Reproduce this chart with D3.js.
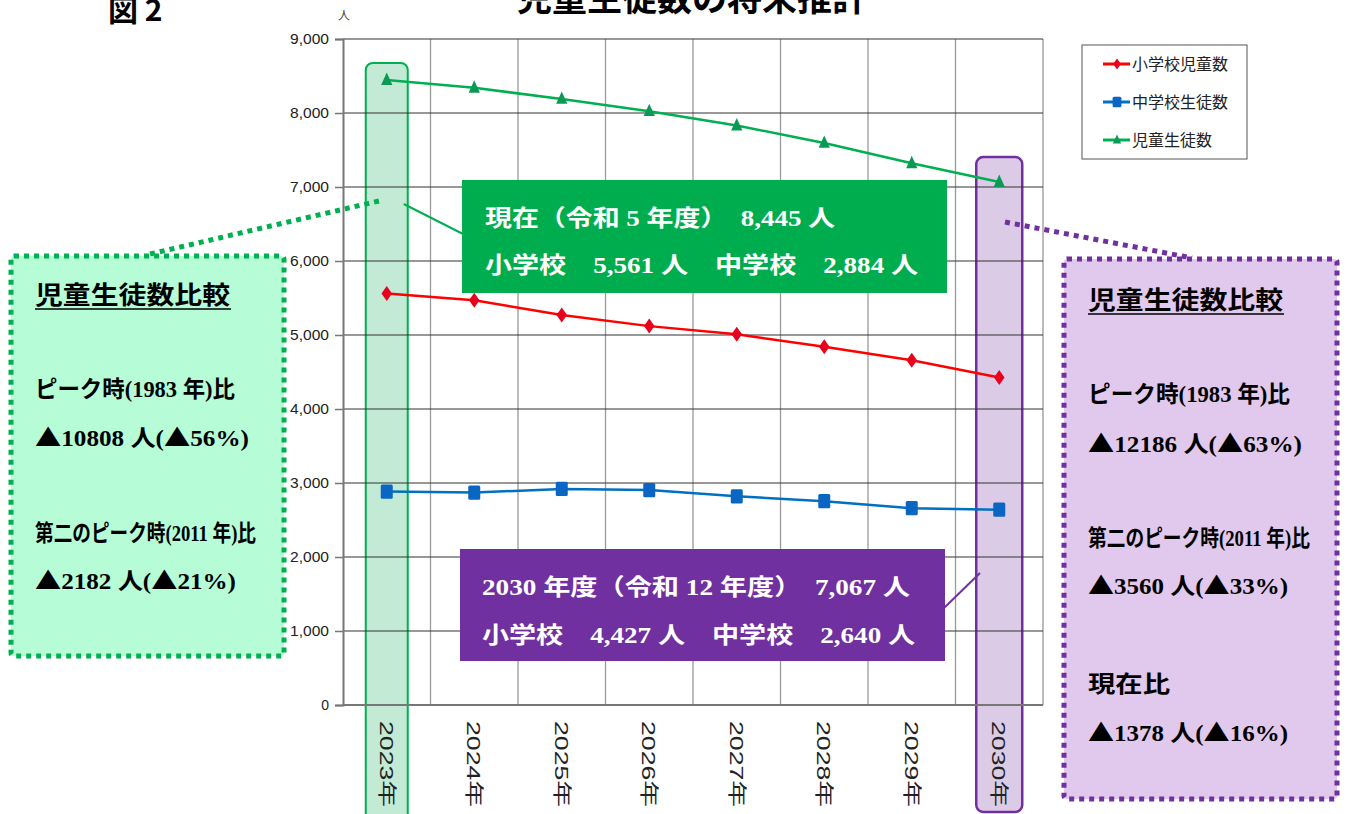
<!DOCTYPE html>
<html>
<head>
<meta charset="utf-8">
<script src="https://cdn.jsdelivr.net/npm/d3@7"></script>
<style>
  body { margin: 0; background: #fff; }
  svg { display: block; }
</style>
</head>
<body>
<div id="chart"></div>
<script>
// data -------------------------------------------------------
const years = ['2023年', '2024年', '2025年', '2026年', '2027年', '2028年', '2029年', '2030年'];
const elementary = [5561, 5470, 5270, 5120, 5010, 4840, 4660, 4427];
const middle = [2884, 2870, 2920, 2905, 2820, 2755, 2660, 2640];
const total = elementary.map((v, i) => v + middle[i]);
const yTicks = [0, 1000, 2000, 3000, 4000, 5000, 6000, 7000, 8000, 9000];
const seriesNames = ['小学校児童数', '中学校生徒数', '児童生徒数'];

const leftNotes = ['ピーク時(1983 年)比', '▲10808 人(▲56%)', '第二のピーク時(2011 年)比', '▲2182 人(▲21%)'];
const rightNotes = ['ピーク時(1983 年)比', '▲12186 人(▲63%)', '第二のピーク時(2011 年)比', '▲3560 人(▲33%)', '現在比', '▲1378 人(▲16%)'];

const W = 1349, H = 814;
const fmt = d3.format(',');
const serif = '"Liberation Serif", "Noto Sans CJK JP", serif';
const sans = '"Liberation Sans", Arial, "Noto Sans CJK JP", sans-serif';
const cjk = '"Noto Sans CJK JP", sans-serif';

const svg = d3.select('#chart').append('svg')
    .attr('width', W)
    .attr('height', H);

const x = d3.scaleBand().domain(years).range([343, 1043]);
const y = d3.scaleLinear().domain([0, 9000]).range([705, 39]);
const cx = d => x(d) + x.bandwidth() / 2;

// title (top of it is cut by the page edge, as in the source)
svg.append('text')
   .attr('x', 692).attr('y', 11)
   .attr('text-anchor', 'middle')
   .attr('font-family', cjk).attr('font-weight', 'bold')
   .attr('font-size', 35)
   .text('児童生徒数の将来推計');
svg.append('text')
   .attr('x', 108).attr('y', 21)
   .attr('font-family', cjk).attr('font-weight', 'bold')
   .attr('font-size', 30)
   .text('図 2');

// highlight bands behind the plot
svg.append('rect')
   .attr('x', cx(years[0]) - 21).attr('y', 63)
   .attr('width', 42).attr('height', 770)
   .attr('rx', 7)
   .attr('fill', '#c2ead5').attr('stroke', '#00b050').attr('stroke-width', 2);
svg.append('rect')
   .attr('x', cx(years[7]) - 23).attr('y', 157)
   .attr('width', 46).attr('height', 655)
   .attr('rx', 7)
   .attr('fill', '#dccbe7').attr('stroke', '#7030a0').attr('stroke-width', 2.5);

// grid
svg.append('g').selectAll('line')
   .data(years.slice(1))
   .join('line')
   .attr('x1', d => x(d)).attr('x2', d => x(d))
   .attr('y1', y(9000)).attr('y2', y(0))
   .attr('stroke', '#9a9a9a').attr('stroke-width', 1.3);
svg.append('line')
   .attr('x1', 1043).attr('x2', 1043).attr('y1', y(9000)).attr('y2', y(0))
   .attr('stroke', '#9a9a9a').attr('stroke-width', 1.3);
svg.append('g').selectAll('line')
   .data(yTicks.slice(1))
   .join('line')
   .attr('x1', 343).attr('x2', 1043)
   .attr('y1', d => y(d)).attr('y2', d => y(d))
   .attr('stroke', '#333').attr('stroke-width', 1.1);

// y axis
const yAxis = svg.append('g')
   .attr('transform', 'translate(343,0)')
   .call(d3.axisLeft(y).tickValues(yTicks).tickFormat(fmt).tickSize(8).tickPadding(6));
yAxis.select('.domain').attr('stroke', '#777').attr('stroke-width', 2);
yAxis.selectAll('.tick line').attr('stroke', '#777').attr('stroke-width', 1.5);
yAxis.selectAll('text')
   .attr('font-family', sans).attr('font-size', 14).attr('fill', '#222')
   .attr('textLength', d => d === 0 ? null : 39)
   .attr('lengthAdjust', 'spacingAndGlyphs');
svg.append('line')
   .attr('x1', 343).attr('x2', 1043).attr('y1', y(0)).attr('y2', y(0))
   .attr('stroke', '#777').attr('stroke-width', 2);
svg.append('text')
   .attr('x', 344).attr('y', 20)
   .attr('text-anchor', 'middle')
   .attr('font-family', cjk).attr('font-size', 12).attr('fill', '#444')
   .text('人');

// x labels (rotated)
svg.append('g').selectAll('text')
   .data(years)
   .join('text')
   .attr('transform', d => `translate(${cx(d) - 7},721) rotate(90)`)
   .attr('font-family', sans).attr('font-size', 19).attr('fill', '#222')
   .attr('textLength', 86).attr('lengthAdjust', 'spacingAndGlyphs')
   .text(d => d);

// lines
const series = [
  { name: seriesNames[0], values: elementary, color: '#ff0000', marker: 'diamond' },
  { name: seriesNames[1], values: middle, color: '#0070c0', marker: 'square' },
  { name: seriesNames[2], values: total, color: '#00b050', marker: 'triangle' }
];
const line = d3.line().x((d, i) => cx(years[i])).y(d => y(d));
const markerFill = { diamond: '#e8001c', square: '#0a66c2', triangle: '#0a9a55' };
function drawMarker(g, type, size) {
  if (type === 'diamond') {
    g.append('path').attr('d', `M0,${-size}L${size * 0.7},0L0,${size}L${-size * 0.7},0Z`);
  } else if (type === 'square') {
    g.append('rect').attr('x', -size * 0.8).attr('y', -size * 0.95)
     .attr('width', size * 1.6).attr('height', size * 1.9).attr('rx', 1.5);
  } else {
    g.append('path').attr('d', `M0,${-size}L${size * 0.75},${size * 0.65}L${-size * 0.75},${size * 0.65}Z`);
  }
}
series.forEach(s => {
  svg.append('path')
     .datum(s.values)
     .attr('d', line)
     .attr('fill', 'none')
     .attr('stroke', s.color)
     .attr('stroke-width', 2.5);
  svg.append('g').selectAll('g')
     .data(s.values)
     .join('g')
     .attr('transform', (d, i) => `translate(${cx(years[i])},${y(d)})`)
     .attr('fill', markerFill[s.marker])
     .each(function () { drawMarker(d3.select(this), s.marker, 7.5); });
});

// legend
const lg = svg.append('g').attr('transform', 'translate(1082,45)');
lg.append('rect').attr('width', 165).attr('height', 114)
  .attr('fill', '#fff').attr('stroke', '#555').attr('stroke-width', 1);
series.forEach((s, i) => {
  const row = lg.append('g').attr('transform', `translate(0,${19 + i * 38})`);
  row.append('line').attr('x1', 21).attr('x2', 48)
     .attr('stroke', s.color).attr('stroke-width', 3);
  const m = row.append('g').attr('transform', 'translate(35,0)').attr('fill', markerFill[s.marker]);
  drawMarker(m, s.marker, 5.5);
  row.append('text').attr('x', 50).attr('y', 6)
     .attr('font-family', cjk).attr('font-size', 16).attr('fill', '#222')
     .text(s.name);
});

// callout boxes ---------------------------------------------
function boxText(g, x0, yPos, str, len, color) {
  g.append('text')
   .attr('x', x0).attr('y', yPos)
   .attr('font-family', serif).attr('font-weight', 'bold')
   .attr('font-size', 23).attr('fill', color)
   .attr('textLength', len).attr('lengthAdjust', 'spacingAndGlyphs')
   .text(str);
}
// present (green)
svg.append('line')
   .attr('x1', cx(years[0]) + 17).attr('y1', 204).attr('x2', 463).attr('y2', 234)
   .attr('stroke', '#00b050').attr('stroke-width', 2);
svg.append('rect').attr('x', 462).attr('y', 180).attr('width', 485).attr('height', 113)
   .attr('fill', '#00ad4e');
boxText(svg, 485, 226, `現在（令和 5 年度）　${fmt(total[0])} 人`, 350, '#fff');
boxText(svg, 485, 273, `小学校　${fmt(elementary[0])} 人　中学校　${fmt(middle[0])} 人`, 433, '#fff');

// 2030 (purple)
svg.append('line')
   .attr('x1', 944).attr('y1', 608).attr('x2', 980).attr('y2', 573)
   .attr('stroke', '#7030a0').attr('stroke-width', 2);
svg.append('rect').attr('x', 460).attr('y', 549).attr('width', 485).attr('height', 112)
   .attr('fill', '#7030a0');
boxText(svg, 482, 595, `2030 年度（令和 12 年度）　${fmt(total[7])} 人`, 428, '#fff');
boxText(svg, 482, 643, `小学校　${fmt(elementary[7])} 人　中学校　${fmt(middle[7])} 人`, 433, '#fff');

// left dotted comparison box
svg.append('line')
   .attr('x1', 150).attr('y1', 254).attr('x2', 383).attr('y2', 200)
   .attr('stroke', '#00b050').attr('stroke-width', 5).attr('stroke-dasharray', '5,5');
svg.append('rect').attr('x', 11).attr('y', 256).attr('width', 273).attr('height', 400)
   .attr('rx', 3)
   .attr('fill', '#b6fcd6').attr('stroke', '#00b050').attr('stroke-width', 5)
   .attr('stroke-dasharray', '5,5');

// right dotted comparison box
svg.append('line')
   .attr('x1', 1005).attr('y1', 222).attr('x2', 1192).attr('y2', 258)
   .attr('stroke', '#7030a0').attr('stroke-width', 5).attr('stroke-dasharray', '5,5');
svg.append('rect').attr('x', 1064).attr('y', 259).attr('width', 273).attr('height', 540)
   .attr('rx', 3)
   .attr('fill', '#e0c9ec').attr('stroke', '#7030a0').attr('stroke-width', 5)
   .attr('stroke-dasharray', '5,5');

function noteBlock(x0, titleY, lines, ys, lens) {
  svg.append('text')
     .attr('x', x0).attr('y', titleY)
     .attr('font-family', cjk).attr('font-weight', 'bold').attr('font-size', 25)
     .attr('textLength', 195).attr('lengthAdjust', 'spacingAndGlyphs')
     .text('児童生徒数比較');
  svg.append('line')
     .attr('x1', x0).attr('x2', x0 + 196).attr('y1', titleY + 5).attr('y2', titleY + 5)
     .attr('stroke', '#000').attr('stroke-width', 1.5);
  lines.forEach((t, i) => {
    const txt = svg.append('text')
       .attr('x', x0).attr('y', ys[i])
       .attr('font-family', serif).attr('font-weight', 'bold')
       .attr('font-size', 23)
       .attr('textLength', lens[i]).attr('lengthAdjust', 'spacingAndGlyphs');
    // the ▲ marks are drawn larger with the CJK face
    t.split(/(▲)/).filter(p => p !== '').forEach(p => {
      const ts = txt.append('tspan').text(p);
      if (p === '▲') ts.attr('font-family', cjk).attr('font-size', 24);
    });
  });
}
noteBlock(35, 304, leftNotes, [397, 446, 541, 589], [200, 214, 221, 201]);
noteBlock(1088, 309, rightNotes, [402, 452, 546, 594, 692, 741], [202, 214, 222, 200, 82, 200]);
</script>
</body>
</html>
